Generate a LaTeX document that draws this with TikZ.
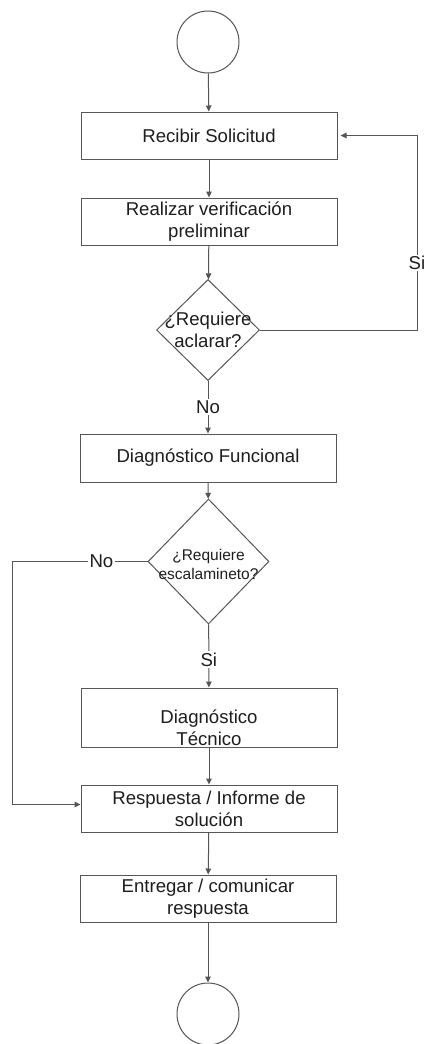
\documentclass[tikz,border=0pt]{standalone}
\usepackage{fontspec}
\setmainfont{Liberation Sans}
\usetikzlibrary{shapes.geometric,arrows.meta}
\definecolor{linegray}{RGB}{85,85,85}
\definecolor{inkgray}{RGB}{30,30,30}
\begin{document}
\begin{tikzpicture}[x=1pt,y=-1pt,
  every node/.style={text=inkgray},
  stepfont/.style={font=\fontsize{18.6}{22}\selectfont},
  terminal/.style={circle,draw=linegray,line width=1pt,minimum size=62pt,inner sep=0pt},
  stepbox/.style={rectangle,draw=linegray,line width=1pt,minimum width=256pt,
    minimum height=47pt,inner sep=0pt,align=center,stepfont},
  decision/.style={diamond,draw=linegray,line width=1pt,inner sep=0pt},
  dtext/.style={align=center,inner sep=0pt},
  flow/.style={draw=linegray,line width=1pt,-{Triangle[length=6pt,width=5.5pt]}},
  edgelabel/.style={fill=white,inner sep=1.5pt,stepfont},
]
\useasboundingbox (0,0) rectangle (428,1044);
\fill[white] (0,0) rectangle (428,1044);

% process nodes
\node[terminal] (start) at (208,42) {};
\node[stepbox] (recibir) at (209,135.5) {Recibir Solicitud};
\node[stepbox] (verif) at (209,221.5) {Realizar verificación\\preliminar};
\node[decision,minimum width=103pt,minimum height=101pt,
  label={[dtext,stepfont,name=aclarartxt]center:{¿Requiere\\aclarar?}}] (aclarar) at (208,330) {};
\node[stepbox,minimum height=48pt] (funcional) at (208,458) {Diagnóstico Funcional};
\node[decision,minimum width=121pt,minimum height=125pt,
  label={[dtext,font=\fontsize{15.5}{19}\selectfont,yshift=-3pt,name=escalatxt]center:{¿Requiere\\escalamineto?}}] (escala) at (208.5,561.5) {};
\node[stepbox,minimum height=59pt,
  label={[dtext,stepfont,yshift=-10pt,name=tecnicotxt]center:{Diagnóstico\\Técnico}}] (tecnico) at (209,717.5) {};
\node[stepbox] (respuesta) at (209,808.5) {Respuesta / Informe de\\solución};
\node[stepbox] (entregar) at (208,898.5) {Entregar / comunicar\\respuesta};
\node[terminal] (end) at (208,1014) {};

% routing points
\coordinate (loopTop) at (417,135.5);
\coordinate (leftX) at (12,0);

% connectors
\draw[flow] (start) -- (recibir);
\draw[flow] (recibir) -- (verif);
\draw[flow] (verif) -- (aclarar);
\draw[flow] (aclarar.east) -| node[edgelabel,pos=0.672] (siA) {Si} (loopTop)
  -- ([xshift=3pt]recibir.east);
\draw[flow] (aclarar) -- node[edgelabel] (noA) {No} (funcional);
\draw[flow] (funcional) -- (escala);
\draw[flow] (escala) -- node[edgelabel,pos=0.56] (siB) {Si} (tecnico);
\draw[flow] (escala.west) -- node[edgelabel,pos=0.34] (noB) {No} (escala.west -| leftX)
  |- ([yshift=4pt]respuesta.west);
\draw[flow] (tecnico) -- (respuesta);
\draw[flow] (respuesta) -- (entregar);
\draw[flow] (entregar) -- (end);
\end{tikzpicture}
\end{document}
